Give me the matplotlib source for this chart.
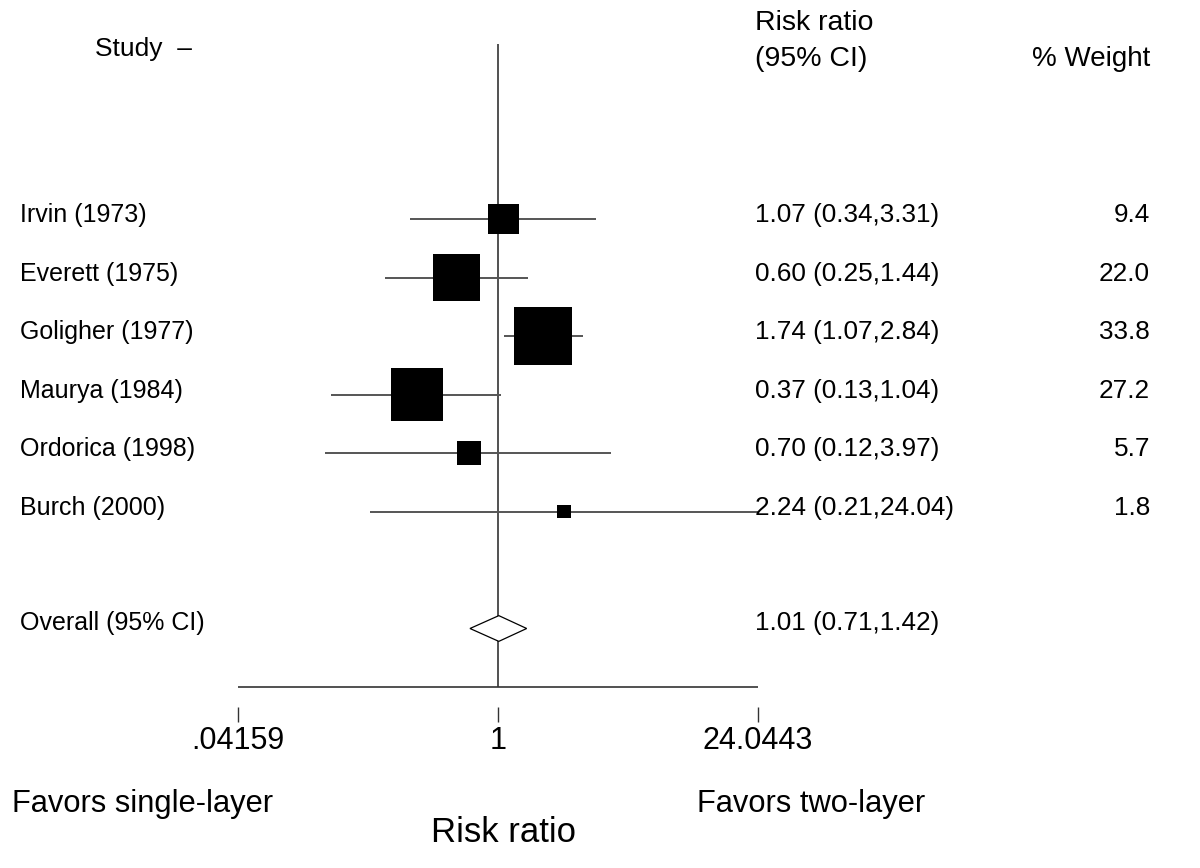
import numpy as np
import matplotlib
matplotlib.use("Agg")
import matplotlib.pyplot as plt
import matplotlib.transforms as mtransforms

plt.rcParams["font.family"] = ["Liberation Sans", "DejaVu Sans"]

# datos del forest plot
estudios = ["Irvin (1973)", "Everett (1975)", "Goligher (1977)",
            "Maurya (1984)", "Ordorica (1998)", "Burch (2000)"]
rr = [1.07, 0.60, 1.74, 0.37, 0.70, 2.24]
ic_inf = [0.34, 0.25, 1.07, 0.13, 0.12, 0.21]
ic_sup = [3.31, 1.44, 2.84, 1.04, 3.97, 24.04]
pesos = [9.4, 22.0, 33.8, 27.2, 5.7, 1.8]

global_rr, global_inf, global_sup = 1.01, 0.71, 1.42
ticks_x = [0.04159, 1, 24.0443]
ticks_txt = [".04159", "1", "24.0443"]

fig = plt.figure(figsize=(12, 8.68), dpi=100)
ax = fig.add_axes([0, 0, 1, 1])
ax.set_xscale("log")
# escala: 0.04159 -> px 238, 24.0443 -> px 758
px_por_log = 260 / np.log(24.0443)
ax.set_xlim(np.exp(-498 / px_por_log), np.exp((1200 - 498) / px_por_log))
ax.set_ylim((868 - 219) / 58.5, -219 / 58.5)
ax.axis("off")

trans = mtransforms.blended_transform_factory(ax.transAxes, ax.transData)
filas = np.arange(len(estudios))
fila_global = len(estudios) + 1
fila_eje = fila_global + 1

# linea vertical de no efecto
ax.vlines(1, -3, fila_eje, color="#333333", lw=1.2, zorder=1)

# intervalos y cuadrados
ax.hlines(filas, ic_inf, ic_sup, color="#555555", lw=1.4, zorder=2)
lado_pt = 10 * np.sqrt(pesos) * 0.72
ax.scatter(rr, filas, marker="s", s=lado_pt ** 2, color="black",
           linewidths=0, zorder=3)

# diamante global
h = 0.22
ax.fill([global_inf, global_rr, global_sup, global_rr],
        [fila_global, fila_global - h, fila_global, fila_global + h],
        facecolor="white", edgecolor="black", lw=0.9, zorder=3)

# eje inferior estilo Stata
ax.hlines(fila_eje, ticks_x[0], ticks_x[-1], color="#333333", lw=1.2)
ax.vlines(ticks_x, fila_eje + 0.34, fila_eje + 0.6, color="#333333", lw=1.0)
for xv, t in zip(ticks_x, ticks_txt):
    ax.text(xv, fila_eje + 0.92, t, ha="center", va="center", fontsize=22)

# textos de columnas
fs = 18
fs_num = 18.8
for i, nombre in enumerate(estudios):
    ax.text(20 / 1200, i - 0.06, nombre, transform=trans, va="center", fontsize=fs)
    ax.text(755 / 1200, i - 0.06,
            f"{rr[i]:.2f} ({ic_inf[i]:.2f},{ic_sup[i]:.2f})",
            transform=trans, va="center", fontsize=fs_num)
    ax.text(1150 / 1200, i - 0.06, f"{pesos[i]:.1f}", transform=trans,
            va="center", ha="right", fontsize=fs_num)

ax.text(20 / 1200, fila_global - 0.1, "Overall (95% CI)", transform=trans,
        va="center", fontsize=fs)
ax.text(755 / 1200, fila_global - 0.1,
        f"{global_rr:.2f} ({global_inf:.2f},{global_sup:.2f})",
        transform=trans, va="center", fontsize=fs_num)

# encabezados
ax.text(95 / 1200, -2.9, "Study  \u2013", transform=trans, va="center", fontsize=19)
ax.text(755 / 1200, -3.35, "Risk ratio", transform=trans, va="center", fontsize=20.5)
ax.text(755 / 1200, -2.74, "(95% CI)", transform=trans, va="center", fontsize=20.5)
ax.text(1150 / 1200, -2.73, "% Weight", transform=trans, va="center",
        ha="right", fontsize=20)

# etiquetas inferiores
ax.text(12 / 1200, 10.0, "Favors single-layer", transform=trans,
        va="center", fontsize=22.2)
ax.text(697 / 1200, 10.0, "Favors two-layer", transform=trans,
        va="center", fontsize=22.2)
desplaza = mtransforms.ScaledTranslation(0.05, 0, fig.dpi_scale_trans)
ax.text(1, 10.48, "Risk ratio", ha="center", va="center", fontsize=25,
        transform=ax.transData + desplaza)

fig.savefig("out.png", dpi=100, facecolor="white")
